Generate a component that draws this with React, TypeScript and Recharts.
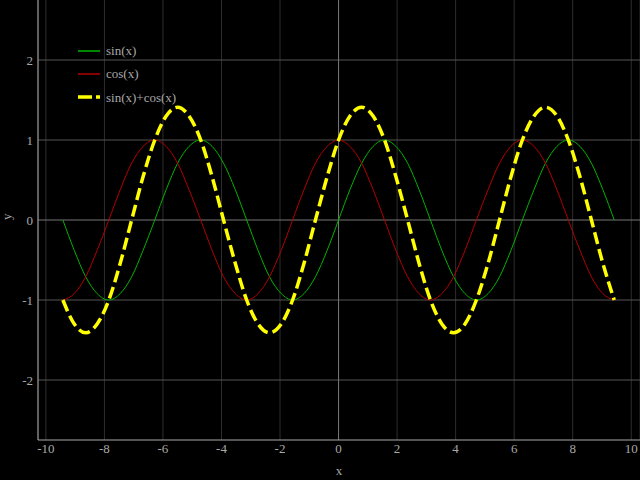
import { LineChart, Line, XAxis, YAxis, CartesianGrid, ReferenceLine, Label } from 'recharts';

// x from -3π to 3π in steps of π/8
const xs = [
  -9.42, -9.03, -8.64, -8.25, -7.85, -7.46, -7.07, -6.68, -6.28, -5.89, -5.5, -5.11, -4.71, -4.32, -3.93, -3.53,
  -3.14, -2.75, -2.36, -1.96, -1.57, -1.18, -0.79, -0.39, 0, 0.39, 0.79, 1.18, 1.57, 1.96, 2.36, 2.75,
  3.14, 3.53, 3.93, 4.32, 4.71, 5.11, 5.5, 5.89, 6.28, 6.68, 7.07, 7.46, 7.85, 8.25, 8.64, 9.03, 9.42,
];

const sinVals = [
  0, -0.38, -0.71, -0.92, -1, -0.92, -0.71, -0.38, 0, 0.38, 0.71, 0.92, 1, 0.92, 0.71, 0.38,
  0, -0.38, -0.71, -0.92, -1, -0.92, -0.71, -0.38, 0, 0.38, 0.71, 0.92, 1, 0.92, 0.71, 0.38,
  0, -0.38, -0.71, -0.92, -1, -0.92, -0.71, -0.38, 0, 0.38, 0.71, 0.92, 1, 0.92, 0.71, 0.38,
  0,
];

const cosVals = [
  -1, -0.92, -0.71, -0.38, 0, 0.38, 0.71, 0.92, 1, 0.92, 0.71, 0.38, 0, -0.38, -0.71, -0.92,
  -1, -0.92, -0.71, -0.38, 0, 0.38, 0.71, 0.92, 1, 0.92, 0.71, 0.38, 0, -0.38, -0.71, -0.92,
  -1, -0.92, -0.71, -0.38, 0, 0.38, 0.71, 0.92, 1, 0.92, 0.71, 0.38, 0, -0.38, -0.71, -0.92,
  -1,
];

const sumVals = [
  -1, -1.3, -1.41, -1.3, -1, -0.54, 0, 0.54, 1, 1.3, 1.41, 1.3, 1, 0.54, 0, -0.54,
  -1, -1.3, -1.41, -1.3, -1, -0.54, 0, 0.54, 1, 1.3, 1.41, 1.3, 1, 0.54, 0, -0.54,
  -1, -1.3, -1.41, -1.3, -1, -0.54, 0, 0.54, 1, 1.3, 1.41, 1.3, 1, 0.54, 0, -0.54,
  -1,
];

const xTicks = [-10, -8, -6, -4, -2, 0, 2, 4, 6, 8, 10];
const yTicks = [-2, -1, 0, 1, 2];

const series = [
  { key: 'sin', name: 'sin(x)', color: '#00b400', width: 1, dash: undefined as string | undefined },
  { key: 'cos', name: 'cos(x)', color: '#b40000', width: 1, dash: undefined as string | undefined },
  { key: 'sum', name: 'sin(x)+cos(x)', color: '#ffff00', width: 3.5, dash: '12 5' },
];

const data = xs.map((x, i) => ({ x, sin: sinVals[i], cos: cosVals[i], sum: sumVals[i] }));

const FONT = '"Liberation Serif", "DejaVu Serif", serif';
const GREY = '#a8a8a8';
const tickStyle = { fill: GREY, stroke: 'none', fontSize: 13, fontFamily: FONT };

function LegendBox() {
  return (
    <div style={{ position: 'absolute', left: 76, top: 39, fontFamily: FONT, fontSize: 13, color: GREY, lineHeight: '23.3px' }}>
      {series.map((s) => (
        <div key={s.key} style={{ display: 'flex', alignItems: 'center', height: 23.3 }}>
          <svg width={30} height={8}>
            <line x1={2} y1={4} x2={24} y2={4} stroke={s.color} strokeWidth={s.key === 'sum' ? 3.5 : 1.5} strokeDasharray={s.key === 'sum' ? '14 4' : undefined} />
          </svg>
          <span>{s.name}</span>
        </div>
      ))}
    </div>
  );
}

export default function App() {
  return (
    <div style={{ position: 'absolute', left: 0, top: 0, width: 640, height: 480, background: '#000' }}>
      <LineChart width={640} height={480} data={data} margin={{ top: 0, right: 0, bottom: 0, left: 0 }}>
        <CartesianGrid stroke="#2e2e2e" horizontal={false} />
        {yTicks.map((t) => (
          <ReferenceLine key={'h' + t} y={t} stroke={t === 0 ? '#777' : '#555'} strokeWidth={1} />
        ))}
        <ReferenceLine x={0} stroke="#777" />
        <XAxis
          dataKey="x"
          type="number"
          domain={[-10.27, 10.3]}
          ticks={xTicks}
          height={40}
          tickLine={false}
          tickSize={0}
          tickMargin={4}
          stroke="#aaa"
          tick={tickStyle}
          allowDataOverflow
        >
          <Label value="x" position="insideBottom" offset={5} style={{ fill: GREY, fontSize: 13, fontFamily: FONT }} />
        </XAxis>
        <YAxis
          type="number"
          domain={[-2.75, 2.75]}
          ticks={yTicks}
          width={38}
          tickLine={false}
          tickSize={0}
          tickMargin={5}
          stroke="#aaa"
          tick={tickStyle}
          allowDataOverflow
        >
          <Label value="y" angle={-90} position="insideLeft" offset={6} style={{ fill: GREY, fontSize: 13, fontFamily: FONT }} />
        </YAxis>
        {series.map((s) => (
          <Line
            key={s.key}
            dataKey={s.key}
            name={s.name}
            type="monotone"
            stroke={s.color}
            strokeWidth={s.width}
            strokeDasharray={s.dash}
            dot={false}
            isAnimationActive={false}
          />
        ))}
      </LineChart>
      <LegendBox />
    </div>
  );
}
